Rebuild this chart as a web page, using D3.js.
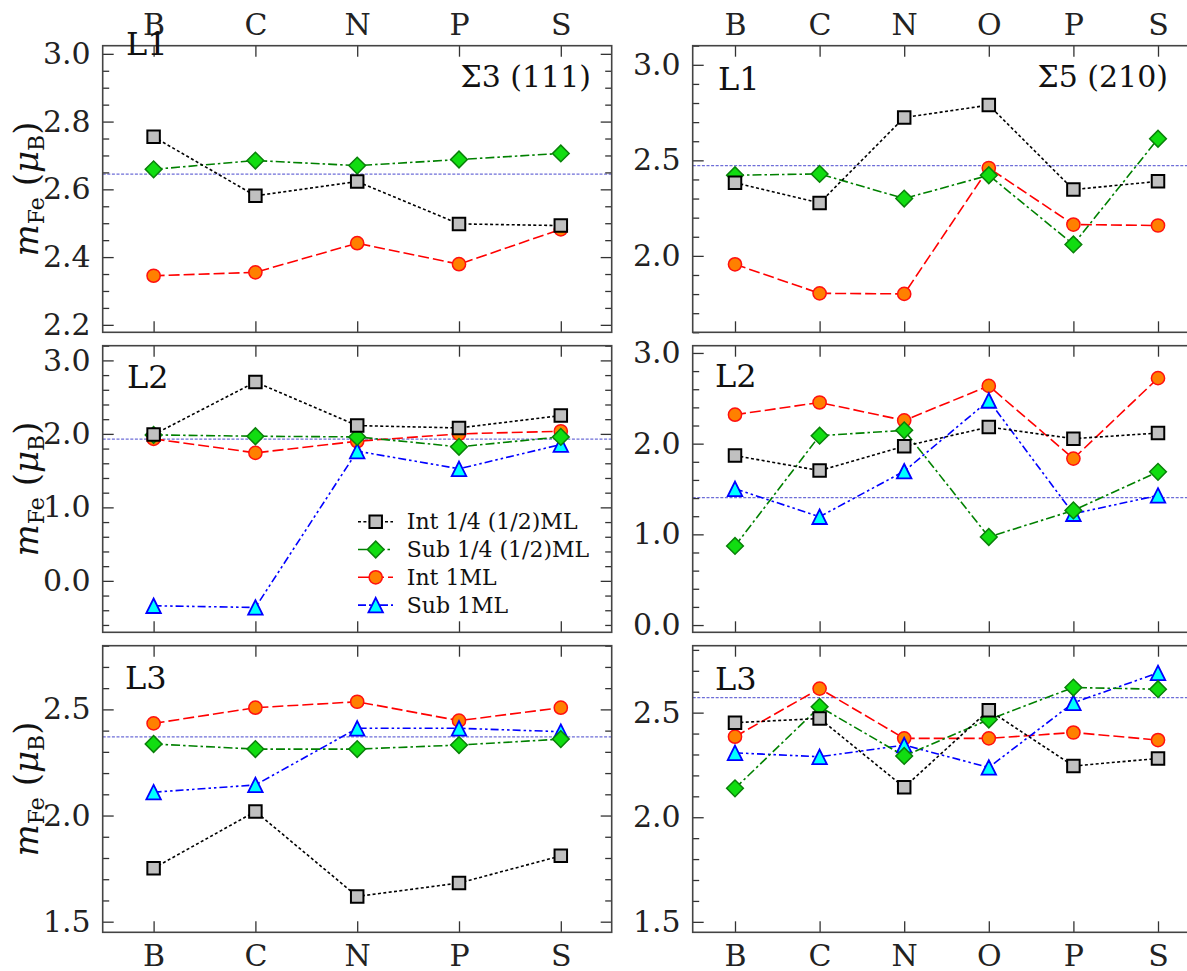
<!DOCTYPE html>
<html>
<head>
<meta charset="utf-8">
<script src="https://cdn.jsdelivr.net/npm/d3@7"></script>
<style>
  html, body { margin: 0; padding: 0; background: #fff; overflow: hidden; }
  svg { display: block; font-family: "DejaVu Serif", serif; }
</style>
</head>
<body>
<svg id="chart" width="1187" height="971"></svg>
<script>
// ---- categories (dopant elements) ----
const catsSigma3 = ["B", "C", "N", "P", "S"];
const catsSigma5 = ["B", "C", "N", "O", "P", "S"];

// ---- Fe magnetic moments (μB), Σ3 (111) boundary ----
const s3L1Int14 = [2.755, 2.581, 2.623, 2.498, 2.493];
const s3L1Sub14 = [2.659, 2.685, 2.670, 2.688, 2.706];
const s3L1Int1  = [2.345, 2.355, 2.441, 2.379, 2.482];

const s3L2Int14 = [1.990, 2.706, 2.113, 2.081, 2.249];
const s3L2Sub14 = [1.986, 1.968, 1.959, 1.824, 1.959];
const s3L2Int1  = [1.932, 1.742, 1.900, 2.000, 2.036];
const s3L2Sub1  = [-0.339, -0.362, 1.765, 1.525, 1.855];

const s3L3Int14 = [1.752, 2.019, 1.619, 1.682, 1.810];
const s3L3Sub14 = [2.337, 2.313, 2.313, 2.332, 2.360];
const s3L3Int1  = [2.434, 2.508, 2.536, 2.447, 2.508];
const s3L3Sub1  = [2.110, 2.144, 2.411, 2.411, 2.395];

// ---- Fe magnetic moments (μB), Σ5 (210) boundary ----
const s5L1Int14 = [2.383, 2.277, 2.724, 2.789, 2.347, 2.390];
const s5L1Sub14 = [2.422, 2.429, 2.300, 2.422, 2.060, 2.613];
const s5L1Int1  = [1.956, 1.804, 1.801, 2.460, 2.164, 2.159];

const s5L2Int14 = [1.868, 1.703, 1.971, 2.183, 2.055, 2.117];
const s5L2Sub14 = [0.872, 2.088, 2.147, 0.971, 1.264, 1.689];
const s5L2Int1  = [2.319, 2.454, 2.256, 2.637, 1.835, 2.722];
const s5L2Sub1  = [1.502, 1.194, 1.696, 2.476, 1.227, 1.429];

const s5L3Int14 = [2.452, 2.472, 2.143, 2.512, 2.245, 2.281];
const s5L3Sub14 = [2.138, 2.528, 2.293, 2.467, 2.620, 2.612];
const s5L3Int1  = [2.385, 2.615, 2.377, 2.377, 2.405, 2.369];
const s5L3Sub1  = [2.308, 2.289, 2.345, 2.238, 2.547, 2.690];

// ---- clean-boundary reference moments per layer ----
const refSigma3 = [2.645, 1.930, 2.371];
const refSigma5 = [2.472, 1.404, 2.572];

// ---- legend labels ----
const seriesLabels = ["Int 1/4 (1/2)ML", "Sub 1/4 (1/2)ML", "Int 1ML", "Sub 1ML"];

// ---- styling ----
const styles = {
  int14: { label: seriesLabels[0], line: "#000000", dash: "3,2.4", shape: "square",   fill: "#c0c0c0", edge: "#000000", ew: 2 },
  sub14: { label: seriesLabels[1], line: "#008000", dash: "9,3,2.5,3", shape: "diamond", fill: "#11dd11", edge: "#0a800a", ew: 1.5 },
  int1:  { label: seriesLabels[2], line: "#ff0000", dash: "11,4", shape: "circle",  fill: "#ff8000", edge: "#ff1010", ew: 1.5 },
  sub1:  { label: seriesLabels[3], line: "#0000ff", dash: "8,3,2.5,3,2.5,3", shape: "triangle", fill: "#00ffff", edge: "#0000ff", ew: 1.8 }
};
const drawOrder = ["int1", "sub1", "sub14", "int14"];
const legendOrder = ["int14", "sub14", "int1", "sub1"];

const cols = [{ x0: 102.7, x1: 611.7 }, { x0: 692.7, x1: 1200.3 }];
const rows = [{ y0: 45.7, y1: 332.3 }, { y0: 345.7, y1: 632.3 }, { y0: 645.7, y1: 932.3 }];

const panels = [
  { row: 0, col: 0, cats: catsSigma3, domain: [2.178, 3.024], major: 0.2, minor: 0.05, ref: refSigma3[0],
    data: { int14: s3L1Int14, sub14: s3L1Sub14, int1: s3L1Int1 },
    tag: "L1", tagXY: [126, 55], title: "Σ3 (111)", titleXY: [591, 87] },
  { row: 0, col: 1, cats: catsSigma5, domain: [1.6, 3.1], major: 0.5, minor: 0.1, ref: refSigma5[0],
    data: { int14: s5L1Int14, sub14: s5L1Sub14, int1: s5L1Int1 },
    tag: "L1", tagXY: [718, 90], title: "Σ5 (210)", titleXY: [1168, 87] },
  { row: 1, col: 0, cats: catsSigma3, domain: [-0.7, 3.2], major: 1.0, minor: 0.2, ref: refSigma3[1],
    data: { int14: s3L2Int14, sub14: s3L2Sub14, int1: s3L2Int1, sub1: s3L2Sub1 },
    tag: "L2", tagXY: [127, 388], legend: true },
  { row: 1, col: 1, cats: catsSigma5, domain: [-0.08, 3.08], major: 1.0, minor: 0.2, ref: refSigma5[1],
    data: { int14: s5L2Int14, sub14: s5L2Sub14, int1: s5L2Int1, sub1: s5L2Sub1 },
    tag: "L2", tagXY: [715, 387] },
  { row: 2, col: 0, cats: catsSigma3, domain: [1.45, 2.8], major: 0.5, minor: 0.1, ref: refSigma3[2],
    data: { int14: s3L3Int14, sub14: s3L3Sub14, int1: s3L3Int1, sub1: s3L3Sub1 },
    tag: "L3", tagXY: [125, 689] },
  { row: 2, col: 1, cats: catsSigma5, domain: [1.45, 2.82], major: 0.5, minor: 0.1, ref: refSigma5[2],
    data: { int14: s5L3Int14, sub14: s5L3Sub14, int1: s5L3Int1, sub1: s5L3Sub1 },
    tag: "L3", tagXY: [715, 690] }
];

const svg = d3.select("#chart");
svg.append("rect").attr("width", 1187).attr("height", 971).attr("fill", "#fff");

function stepTicks(domain, step) {
  const lo = Math.ceil(domain[0] / step - 1e-6), hi = Math.floor(domain[1] / step + 1e-6);
  return d3.range(lo, hi + 1).map(i => +(i * step).toFixed(4));
}

const triangleType = {
  draw(ctx, size) {
    const s = Math.sqrt(size) / 2;
    ctx.moveTo(0, -s); ctx.lineTo(s, s); ctx.lineTo(-s, s); ctx.closePath();
  }
};
function markerPath(shape) {
  if (shape === "square") return d3.symbol(d3.symbolSquare, 12.5 * 12.5)();
  if (shape === "circle") return d3.symbol(d3.symbolCircle, Math.PI * 6.6 * 6.6)();
  if (shape === "diamond") return d3.symbol(d3.symbolSquare, 11.8 * 11.8)();
  return d3.symbol(triangleType, 14.5 * 14.5)();
}
function drawMarker(sel, st) {
  sel.append("path")
    .attr("d", markerPath(st.shape))
    .attr("transform", st.shape === "diamond" ? "rotate(45)" : null)
    .attr("fill", st.fill).attr("stroke", st.edge).attr("stroke-width", st.ew)
    .attr("stroke-linejoin", "miter");
}

const fmt = d3.format(".1f");
const TICK_COLOR = "#333";

panels.forEach(p => {
  const { x0, x1 } = cols[p.col];
  const { y0, y1 } = rows[p.row];
  const x = d3.scalePoint().domain(p.cats).range([x0, x1]).padding(0.5);
  const y = d3.scaleLinear().domain(p.domain).range([y1, y0]);
  const majors = stepTicks(p.domain, p.major);
  const minors = stepTicks(p.domain, p.minor).filter(v => !majors.some(m => Math.abs(m - v) < 1e-6));

  const g = svg.append("g");

  // reference line
  g.append("line")
    .attr("x1", x0).attr("x2", x1).attr("y1", y(p.ref)).attr("y2", y(p.ref))
    .attr("stroke", "#6d6dd8").attr("stroke-width", 1.3).attr("stroke-dasharray", "3,1.6");

  // axes with inward ticks
  const styleAxis = sel => {
    sel.select(".domain").remove();
    sel.selectAll(".tick line").attr("stroke", TICK_COLOR).attr("stroke-width", 1.3);
    sel.selectAll(".tick text").attr("fill", "#222").attr("font-size", 30).attr("font-family", "DejaVu Serif");
  };
  g.append("g").attr("transform", `translate(${x0},0)`)
    .call(d3.axisLeft(y).tickValues(majors).tickSize(-11).tickPadding(12).tickFormat(fmt)).call(styleAxis);
  g.append("g").attr("transform", `translate(${x0},0)`)
    .call(d3.axisLeft(y).tickValues(minors).tickSize(-6.5).tickFormat("")).call(styleAxis);
  g.append("g").attr("transform", `translate(${x1},0)`)
    .call(d3.axisRight(y).tickValues(majors).tickSize(-11).tickFormat("")).call(styleAxis);
  g.append("g").attr("transform", `translate(${x1},0)`)
    .call(d3.axisRight(y).tickValues(minors).tickSize(-6.5).tickFormat("")).call(styleAxis);
  g.append("g").attr("transform", `translate(0,${y0})`)
    .call(d3.axisTop(x).tickSize(-11).tickPadding(11).tickFormat(p.row === 0 ? (d => d) : "")).call(styleAxis);
  g.append("g").attr("transform", `translate(0,${y1})`)
    .call(d3.axisBottom(x).tickSize(-11).tickPadding(12.5).tickFormat(p.row === 2 ? (d => d) : "")).call(styleAxis);

  // frame
  g.append("rect").attr("x", x0).attr("y", y0).attr("width", x1 - x0).attr("height", y1 - y0)
    .attr("fill", "none").attr("stroke", "#444").attr("stroke-width", 1.6);

  // series
  const line = d3.line().x((d, i) => x(p.cats[i])).y(d => y(d));
  drawOrder.forEach(key => {
    const vals = p.data[key];
    if (!vals) return;
    const st = styles[key];
    const sg = g.append("g");
    sg.append("path").attr("d", line(vals)).attr("fill", "none")
      .attr("stroke", st.line).attr("stroke-width", 1.6).attr("stroke-dasharray", st.dash);
    vals.forEach((v, i) => {
      sg.append("g").attr("transform", `translate(${x(p.cats[i])},${y(v)})`).call(s => drawMarker(s, st));
    });
  });

  // panel tag and boundary title
  g.append("text").attr("x", p.tagXY[0]).attr("y", p.tagXY[1]).attr("font-size", 32).attr("fill", "#111").text(p.tag);
  if (p.title) {
    g.append("text").attr("x", p.titleXY[0]).attr("y", p.titleXY[1]).attr("text-anchor", "end")
      .attr("font-size", 30).attr("fill", "#111").text(p.title);
  }

  // y label on the left column
  if (p.col === 0) {
    const cy = (y0 + y1) / 2;
    const t = g.append("text").attr("transform", `translate(37.5,${cy}) rotate(-90)`)
      .attr("text-anchor", "middle").attr("font-size", 34).attr("fill", "#111");
    t.append("tspan").attr("font-style", "italic").text("m");
    t.append("tspan").attr("font-size", 22).attr("dy", 6).text("Fe");
    t.append("tspan").attr("dy", -6).text(" (");
    t.append("tspan").attr("font-style", "italic").text("μ");
    t.append("tspan").attr("font-size", 22).attr("dy", 6).text("B");
    t.append("tspan").attr("dy", -6).text(")");
  }

  // legend
  if (p.legend) {
    const lg = g.append("g");
    legendOrder.forEach((key, i) => {
      const st = styles[key];
      const cy = 521.7 + i * 27.8;
      lg.append("line").attr("x1", 358).attr("x2", 393).attr("y1", cy).attr("y2", cy)
        .attr("stroke", st.line).attr("stroke-width", 1.6).attr("stroke-dasharray", st.dash);
      lg.append("g").attr("transform", `translate(375.7,${cy})`).call(s => drawMarker(s, st));
      lg.append("text").attr("x", 406.7).attr("y", cy).attr("dy", "0.35em")
        .attr("font-size", 22).attr("fill", "#111").text(st.label);
    });
  }
});
</script>
</body>
</html>
